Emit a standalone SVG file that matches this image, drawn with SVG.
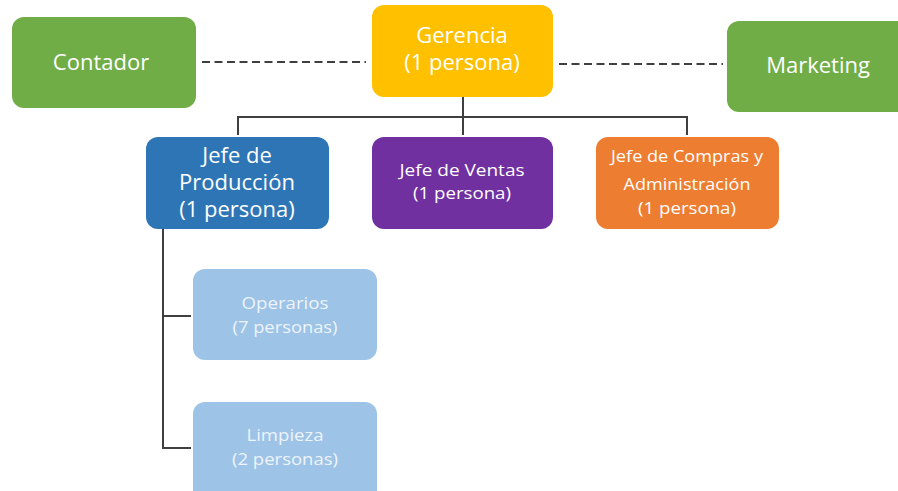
<svg xmlns="http://www.w3.org/2000/svg" width="898" height="491" viewBox="0 0 898 491">
<style>
.box{stroke:none}
.t{font-family:"Open Sans","Liberation Sans",sans-serif;fill:#ffffff;text-anchor:middle}
.lg{font-size:22px}
.sm{font-size:16px}
.lt{fill:#eef4fb}
.ln{stroke:#3f3f3f;stroke-width:2;fill:none}
.dash{stroke:#3f3f3f;stroke-width:2;stroke-dasharray:8 4.5;fill:none}
</style>
<rect width="898" height="491" fill="#ffffff"/>
<g id="connectors">
<path class="dash" d="M202 62 H366"/>
<path class="dash" d="M559 64 H723"/>
<path class="ln" d="M463 97 V135 M238 135 V117 H687 V135"/>
<path class="ln" d="M163 229 V448 H191 M163 316 H191"/>
</g>
<g id="contador">
<rect class="box" x="12" y="17" width="184" height="91" rx="12" fill="#70AD47"/>
<text class="t lg" x="101" y="70">Contador</text>
</g>
<g id="gerencia">
<rect class="box" x="372" y="5" width="181" height="92" rx="12" fill="#FFC000"/>
<text class="t lg" x="462" y="43">Gerencia</text>
<text class="t lg" x="462" y="70">(1 persona)</text>
</g>
<g id="marketing">
<rect class="box" x="727" y="21" width="185" height="91" rx="12" fill="#70AD47"/>
<text class="t lg" x="818" y="73">Marketing</text>
</g>
<g id="jefe-produccion">
<rect class="box" x="146" y="137" width="183" height="92" rx="12" fill="#2E75B6"/>
<text class="t lg" x="237" y="163">Jefe de</text>
<text class="t lg" x="237" y="190">Producción</text>
<text class="t lg" x="237" y="217">(1 persona)</text>
</g>
<g id="jefe-ventas">
<rect class="box" x="372" y="137" width="181" height="92" rx="12" fill="#7030A0"/>
<text class="t sm" x="462" y="176" textLength="125" lengthAdjust="spacingAndGlyphs">Jefe de Ventas</text>
<text class="t sm" x="462" y="199" textLength="98" lengthAdjust="spacingAndGlyphs">(1 persona)</text>
</g>
<g id="jefe-compras">
<rect class="box" x="596" y="137" width="183" height="92" rx="12" fill="#ED7D31"/>
<text class="t sm" x="687" y="162" textLength="152" lengthAdjust="spacingAndGlyphs">Jefe de Compras y</text>
<text class="t sm" x="687" y="190" textLength="127" lengthAdjust="spacingAndGlyphs">Administración</text>
<text class="t sm" x="687" y="214" textLength="98" lengthAdjust="spacingAndGlyphs">(1 persona)</text>
</g>
<g id="operarios">
<rect class="box" x="193" y="269" width="184" height="91" rx="12" fill="#9DC3E6"/>
<text class="t sm lt" x="285" y="309" textLength="87" lengthAdjust="spacingAndGlyphs">Operarios</text>
<text class="t sm lt" x="285" y="333" textLength="105" lengthAdjust="spacingAndGlyphs">(7 personas)</text>
</g>
<g id="limpieza">
<rect class="box" x="193" y="402" width="184" height="100" rx="12" fill="#9DC3E6"/>
<text class="t sm lt" x="285" y="441" textLength="77" lengthAdjust="spacingAndGlyphs">Limpieza</text>
<text class="t sm lt" x="285" y="465" textLength="106" lengthAdjust="spacingAndGlyphs">(2 personas)</text>
</g>
</svg>
